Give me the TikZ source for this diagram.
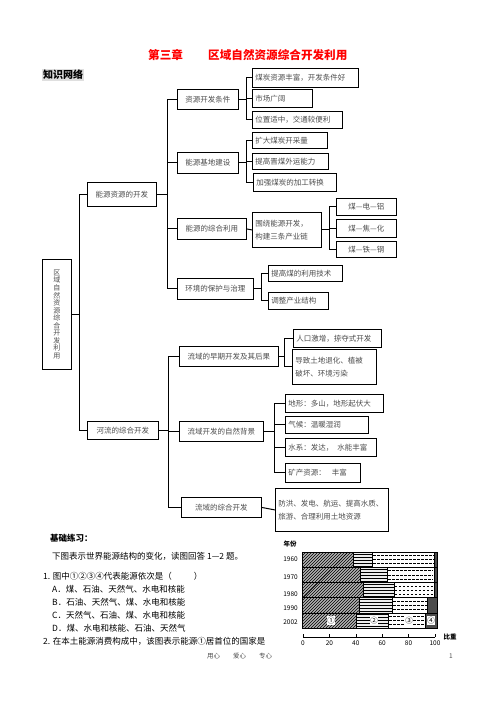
\documentclass[tikz,border=0pt]{standalone}
\usepackage{fontspec}
\setmainfont{Noto Sans CJK SC}
\usetikzlibrary{patterns}
\tikzset{
  treebox/.style={draw, line width=0.9pt, anchor=north west, inner xsep=3pt,
    inner ysep=1pt, align=center, text=black!70,
    font=\fontsize{7.5}{13}\selectfont},
  leafbox/.style={treebox, align=left},
  conn/.style={line width=1pt},
  seg/.style={draw, line width=0.4pt},
  qtext/.style={anchor=west, inner sep=0pt, font=\fontsize{8.5}{10}\selectfont},
  ticklabel/.style={inner sep=0pt, font=\fontsize{6.5}{7}\selectfont},
}

\begin{document}
\begin{tikzpicture}[x=1pt, y=-1pt]
  \useasboundingbox (0,0) rectangle (496,702);

  % heading
  \node[anchor=west, inner sep=0pt, text=red, font=\fontsize{11.6}{12}\selectfont\bfseries]
    (chap) at (148,55) {第三章};
  \node[anchor=west, inner sep=0pt, text=red, font=\fontsize{11.6}{12}\selectfont\bfseries]
    (title) at (208,55) {区域自然资源综合开发利用};
  \node[anchor=west, inner sep=1pt, fill=gray!25, font=\fontsize{10}{10}\selectfont\bfseries]
    (zswl) at (42,75) {知识网络};

  % root
  \node[treebox, minimum width=29, minimum height=110, inner xsep=0pt,
    font=\fontsize{7}{7.55}\selectfont] (quyu) at (42,259)
    {区\\域\\自\\然\\资\\源\\综\\合\\开\\发\\利\\用};

  % second level
  \node[treebox, text width=63, minimum height=24] (nengyuan) at (87,182) {能源资源的开发};
  \node[treebox, text width=65, minimum height=18] (heliu) at (87,421) {河流的综合开发};

  % third level, energy
  \node[treebox, text width=55, minimum height=20] (tiaojian) at (177,89) {资源开发条件};
  \node[treebox, text width=55, minimum height=21] (jidi) at (177,152) {能源基地建设};
  \node[treebox, text width=63, minimum height=21] (zonghe) at (177,218) {能源的综合利用};
  \node[treebox, text width=70, minimum height=21] (huanjing) at (177,278) {环境的保护与治理};

  % third level, river
  \node[treebox, text width=93, minimum height=20] (zaoqi) at (179,346) {流域的早期开发及其后果};
  \node[treebox, text width=78, minimum height=20] (beijing) at (179,421) {流域开发的自然背景};
  \node[treebox, text width=74, minimum height=20] (liuyu) at (181,497) {流域的综合开发};

  % leaves
  \node[leafbox, text width=100, minimum height=19] (tj1) at (252,68) {煤炭资源丰富，开发条件好};
  \node[leafbox, text width=54, minimum height=18] (tj2) at (252,89) {市场广阔};
  \node[leafbox, text width=84, minimum height=17] (tj3) at (252,111) {位置适中，交通较便利};

  \node[leafbox, text width=69, minimum height=16] (jd1) at (252,132) {扩大煤炭开采量};
  \node[leafbox, text width=70, minimum height=16] (jd2) at (252,153) {提高晋煤外运能力};
  \node[leafbox, text width=77, minimum height=18] (jd3) at (253,173) {加强煤炭的加工转换};

  \node[leafbox, text width=63, minimum height=35] (chain) at (252,212)
    {围绕能源开发，\\构建三条产业链};
  \node[treebox, text width=54, minimum height=17] (cn1) at (336,198) {煤—电—铝};
  \node[treebox, text width=54, minimum height=18] (cn2) at (336,219) {煤—焦—化};
  \node[treebox, text width=54, minimum height=16] (cn3) at (336,241) {煤—铁—钢};

  \node[leafbox, text width=68, minimum height=16] (hj1) at (268,265) {提高煤的利用技术};
  \node[leafbox, text width=54, minimum height=17] (hj2) at (268,292) {调整产业结构};

  \node[leafbox, text width=82, minimum height=18] (zq1) at (293,329) {人口激增，掠夺式开发};
  \node[leafbox, text width=78, minimum height=35] (zq2) at (292,349)
    {导致土地退化、植被\\破坏、环境污染};

  \node[leafbox, text width=92, minimum height=18] (bj1) at (285,394) {地形：多山，地形起伏大};
  \node[leafbox, text width=77, minimum height=17] (bj2) at (285,416) {气候：温暖湿润};
  \node[leafbox, text width=85, minimum height=18] (bj3) at (285,438) {水系：发达，\hspace{4pt}水能丰富};
  \node[leafbox, text width=69, minimum height=19] (bj4) at (285,463) {矿产资源：\hspace{6pt}丰富};

  \node[leafbox, text width=107, minimum height=43] (ly1) at (275,488)
    {防洪、发电、航运、提高水质、\\旅游、合理利用土地资源};

  % connectors
  \draw[conn] (quyu.east) -- ++(8,0) coordinate (t0);
  \draw[conn] (nengyuan.west) -| (t0) |- (heliu.west);

  \draw[conn] (nengyuan.east) -- ++(11,0) coordinate (t1);
  \draw[conn] (tiaojian.west) -| (t1) |- (huanjing.west);
  \draw[conn] (t1 |- jidi.west) -- (jidi.west);
  \draw[conn] (t1 |- zonghe.west) -- (zonghe.west);

  \draw[conn] (heliu.east) -- ++(10,0) coordinate (t2);
  \draw[conn] (zaoqi.west) -| (t2) |- (liuyu.west);
  \draw[conn] (t2 |- beijing.west) -- (beijing.west);

  \draw[conn] (tiaojian.east) -- ++(8,0) coordinate (t3);
  \draw[conn] (tj1.west) -| (t3) |- (tj3.west);
  \draw[conn] (t3 |- tj2.west) -- (tj2.west);

  \draw[conn] (jidi.east) -- ++(8,0) coordinate (t4);
  \draw[conn] (jd1.west) -| (t4) |- (jd3.west);
  \draw[conn] (t4 |- jd2.west) -- (jd2.west);

  \draw[conn] (zonghe.east) -- (chain.west);
  \draw[conn] (chain.east) -- ++(8,0) coordinate (t5);
  \draw[conn] (cn1.west) -| (t5) |- (cn3.west);
  \draw[conn] (t5 |- cn2.west) -- (cn2.west);

  \draw[conn] (huanjing.east) -- ++(8,0) coordinate (t6);
  \draw[conn] (hj1.west) -| (t6) |- (hj2.west);

  \draw[conn] (zaoqi.east) -- ++(6,0) coordinate (t7);
  \draw[conn] (zq1.west) -| (t7) |- (zq2.west);

  \draw[conn] (beijing.east) -- ++(11,0) coordinate (t8);
  \draw[conn] (bj1.west) -| (t8) |- (bj4.west);
  \draw[conn] (t8 |- bj2.west) -- (bj2.west);
  \draw[conn] (t8 |- bj3.west) -- (bj3.west);

  \draw[conn] (liuyu.east) -- (ly1.west);

  % exercises
  \node[qtext, font=\fontsize{8.5}{10}\selectfont\bfseries] (jclx) at (50,538) {基础练习：};
  \node[qtext] (intro) at (52,556) {下图表示世界能源结构的变化，读图回答 1—2 题。};
  \node[qtext] (q1) at (43,576) {1. 图中①②③④代表能源依次是（\hspace{22pt}）};
  \node[qtext] (optA) at (52,589) {A．煤、石油、天然气、水电和核能};
  \node[qtext] (optB) at (52,602) {B．石油、天然气、煤、水电和核能};
  \node[qtext] (optC) at (52,615) {C．天然气、石油、煤、水电和核能};
  \node[qtext] (optD) at (52,628) {D．煤、水电和核能、石油、天然气};
  \node[qtext] (q2) at (43,641) {2. 在本土能源消费构成中，该图表示能源①居首位的国家是};

  % chart
  \node[ticklabel, font=\fontsize{6.5}{7}\selectfont\bfseries] (nianfen) at (290,544) {年份};
  \foreach \yr/\ly/\a/\b/\c [count=\i from 0] in
      {1960/559/38/52/98, 1970/577/43/63/98, 1980/594/45/68/98,
       1990/608/42/67/93, 2002/622/40/64/91}{
    \pgfmathsetmacro\yt{552+15.2*\i}
    \pgfmathsetmacro\yb{\yt+15.2}
    \pgfmathsetmacro\xa{302+1.35*\a}
    \pgfmathsetmacro\xb{302+1.35*\b}
    \pgfmathsetmacro\xc{302+1.35*\c}
    \fill[gray!60] (302,\yt) rectangle (\xa,\yb);
    \fill[pattern=north east lines] (302,\yt) rectangle (\xa,\yb);
    \fill[gray!15] (\xa,\yt) rectangle (\xb,\yb);
    \fill[pattern=horizontal lines] (\xa,\yt) rectangle (\xb,\yb);
    \foreach \k in {3.5,7.6,11.7}
      \draw[line width=0.6pt, dash pattern=on 2.5pt off 1.5pt]
        ({\xb+1},{\yt+\k}) -- ({\xc-1},{\yt+\k});
    \fill[black!70] (\xc,\yt) rectangle (437,\yb);
    \draw[seg] (302,\yt) rectangle (437,\yb);
    \draw[seg] (\xa,\yt) -- (\xa,\yb) (\xb,\yt) -- (\xb,\yb) (\xc,\yt) -- (\xc,\yb);
    \node[ticklabel, anchor=east] at (298,\ly) {\yr};
  }
  \draw[line width=0.5pt] (302,599) -- (348,552);
  \foreach \n/\x in {①/331, ②/374, ③/409, ④/431}
    \node[ticklabel, fill=white, inner sep=0.6pt, font=\fontsize{7.5}{8}\selectfont]
      at (\x,620.5) {\n};

  \draw[line width=0.6pt] (303,637) -- (435,637);
  \foreach \v in {0,20,...,100}{
    \draw[line width=0.5pt] ({303+1.32*\v},637) -- ({303+1.32*\v},634);
    \node[ticklabel] at ({303+1.32*\v},643) {\v};
  }
  \node[ticklabel, font=\fontsize{6.5}{7}\selectfont\bfseries] (bizhong) at (450,637) {比重};

  % footer
  \node[anchor=west, inner sep=0pt, text=black!70, font=\fontsize{6.5}{7}\selectfont]
    (footer) at (207,656) {用心\hspace{13pt}爱心\hspace{13pt}专心};
  \node[inner sep=0pt, text=black!70, font=\fontsize{6.5}{7}\selectfont] (pageno) at (451,656) {1};
\end{tikzpicture}
\end{document}
